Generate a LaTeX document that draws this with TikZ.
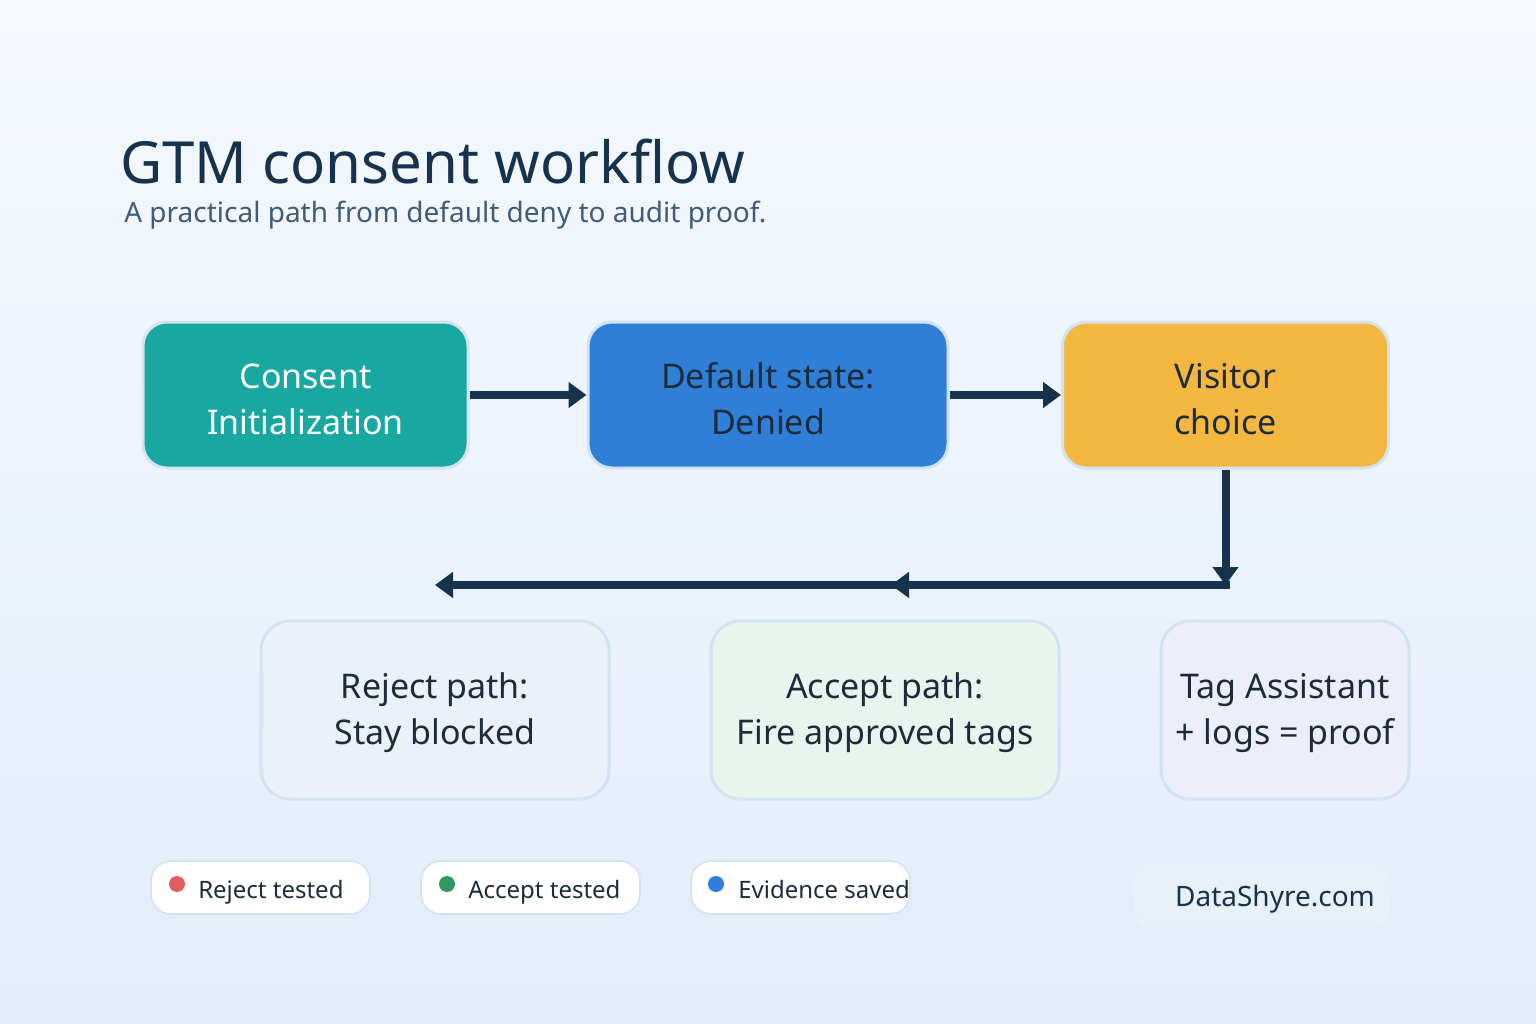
\documentclass[tikz,border=0pt]{standalone}
\usepackage{fontspec}
\setmainfont{Noto Sans}
\usetikzlibrary{arrows.meta}
\definecolor{navy}{HTML}{17324D}
\definecolor{tealc}{HTML}{19A7A1}
\definecolor{bluec}{HTML}{2F7FD8}
\definecolor{yellowc}{HTML}{F4B740}
\definecolor{txtdark}{HTML}{1E2B3B}
\definecolor{subc}{HTML}{3E5C7A}
\definecolor{rejfill}{HTML}{EAF1F9}
\definecolor{accfill}{HTML}{E8F5EE}
\definecolor{tagfill}{HTML}{ECEFFA}
\definecolor{bordc}{HTML}{D3E3F2}
\definecolor{bgtop}{HTML}{F5F9FD}
\definecolor{bgbot}{HTML}{E2EDFA}
\definecolor{redd}{HTML}{E35D5F}
\definecolor{greend}{HTML}{2E9A62}
\definecolor{brandfill}{HTML}{E8F0FA}
\tikzset{
  topbox/.style={draw=bordc, line width=2.25pt, rounded corners=18pt, minimum height=109.5pt, inner sep=0pt},
  lowbox/.style={draw=bordc, line width=2.25pt, rounded corners=22pt, minimum height=133.5pt, inner sep=0pt},
  boxtxt/.style={align=center, inner sep=0pt, font=\fontsize{25.5}{34.5}\selectfont},
  pill/.style={draw=bordc, line width=1.2pt, fill=white, rounded corners=15pt, minimum width=164.25pt, minimum height=39.75pt, inner sep=0pt},
  dot/.style={circle, inner sep=0pt, minimum size=12pt},
  pilltxt/.style={anchor=base west, inner sep=0pt, text=txtdark, font=\fontsize{18}{22}\selectfont},
  arr/.style={draw=navy, line width=6pt, -{Triangle[length=13.5pt,width=18.75pt]}},
  plainline/.style={draw=navy, line width=6pt}
}
\begin{document}
\begin{tikzpicture}[x=0.75pt,y=-0.75pt]
\shade[top color=bgtop, bottom color=bgbot] (0,0) rectangle (1536,1024);
\useasboundingbox (0,0) rectangle (1536,1024);

\node[anchor=base west, inner sep=0pt, text=navy, font=\fontsize{43.6}{52}\selectfont] (title) at (120,183) {GTM consent workflow};
\node[anchor=base west, inner sep=0pt, text=subc, font=\fontsize{21}{26}\selectfont] (sub) at (124,222) {A practical path from default deny to audit proof.};

\node[topbox, fill=tealc, minimum width=243.75pt] (b1) at (305.5,395) {};
\node[topbox, fill=bluec, minimum width=270pt] (b2) at (768,395) {};
\node[topbox, fill=yellowc, minimum width=244.5pt] (b3) at (1225.5,395) {};
\node[boxtxt, text=white] (b1t) at (305.5,399) {Consent\\Initialization};
\node[boxtxt, text=txtdark] (b2t) at (768,399) {Default state:\\Denied};
\node[boxtxt, text=txtdark] (b3t) at (1225.5,399) {Visitor\\choice};

\node[lowbox, fill=rejfill, minimum width=261pt] (r) at (435,710) {};
\node[lowbox, fill=accfill, minimum width=261pt] (a) at (885,710) {};
\node[lowbox, fill=tagfill, minimum width=186pt] (t) at (1285,710) {};
\node[boxtxt, text=txtdark] (rt) at (435,713) {Reject path:\\Stay blocked};
\node[boxtxt, text=txtdark] (at) at (885,713) {Accept path:\\Fire approved tags};
\node[boxtxt, text=txtdark] (tt) at (1285,713) {Tag Assistant\\+ logs = proof};

\coordinate (j) at (1225.5,585);
\coordinate (jr) at (1230,585);
\coordinate (ml) at (891,585);
\coordinate (ll) at (435,585);

\draw[arr] (b1.east) -- (b2.west);
\draw[arr] (b2.east) -- (b3.west);
\draw[arr] (jr) -- (ll);
\draw[arr] (jr) -- (ml);
\draw[arr] (b3.south) -- (j);

\node[pill] (p1) at (260.5,887.5) {};
\node[pill] (p2) at (530.5,887.5) {};
\node[pill] (p3) at (800.5,887.5) {};
\node[dot, fill=redd] (d1) at (177,884) {};
\node[dot, fill=greend] (d2) at (447,884) {};
\node[dot, fill=bluec] (d3) at (716,884) {};
\node[pilltxt] (l1) at (198,898) {Reject tested};
\node[pilltxt] (l2) at (468,898) {Accept tested};
\node[pilltxt] (l3) at (738,898) {Evidence saved};

\node[fill=brandfill, rounded corners=15pt, minimum width=193pt, minimum height=49pt, inner sep=0pt] (brand) at (1262,895) {};
\node[anchor=base, inner sep=0pt, text=navy, font=\fontsize{21}{26}\selectfont] (brandtxt) at (1275,906) {DataShyre.com};
\end{tikzpicture}
\end{document}
